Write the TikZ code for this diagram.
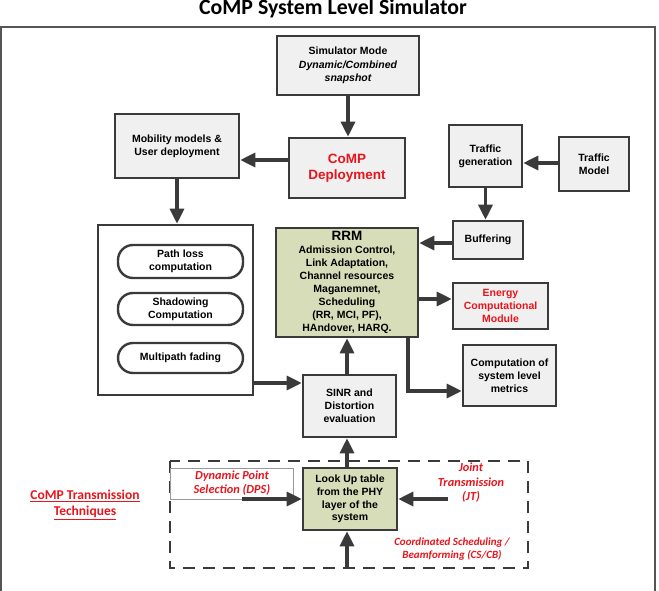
\documentclass[tikz,border=0pt]{standalone}
\usepackage{fontspec}
\setmainfont{Liberation Sans}
\newfontfamily\calfont{Carlito}
\usetikzlibrary{arrows.meta}
\definecolor{bdr}{HTML}{3A3A3A}
\definecolor{boxfill}{HTML}{F0F0F0}
\definecolor{grn}{HTML}{D6DDB8}
\definecolor{rd}{HTML}{E8141C}
\definecolor{frm}{HTML}{555555}
\tikzset{
  gbox/.style={draw=bdr, fill=boxfill, line width=2.6pt, inner sep=0pt, align=center,
    font=\fontsize{10.5}{12.8}\selectfont\bfseries},
  greenbox/.style={gbox, fill=grn},
  pill/.style={draw=bdr, fill=white, line width=2.4pt, rounded corners=15pt, inner sep=0pt, align=center,
    font=\fontsize{10.5}{12.8}\selectfont\bfseries},
  arr/.style={draw=bdr, line width=3.2pt, -{Triangle[length=15pt,width=14pt]}},
  redit/.style={text=rd, align=center, font=\calfont\fontsize{12.3}{14.5}\selectfont\bfseries\itshape},
}
\begin{document}
\begin{tikzpicture}[x=1pt,y=-1pt]
\useasboundingbox (0,0) rectangle (659,591);
% title
\node[font=\calfont\fontsize{21.8}{24}\selectfont\bfseries] (title) at (333,9) {CoMP System Level Simulator};
% outer frame
\draw[frm, line width=2pt] (1,600) -- (1,27) -- (655,27) -- (655,600);
% boxes
\node[gbox, minimum width=142pt, minimum height=59pt, font=\fontsize{10.5}{13.5}\selectfont\bfseries] (sim) at (348,65.5)
  {Simulator Mode\\\itshape Dynamic/Combined\\\itshape snapshot};
\node[gbox, minimum width=124pt, minimum height=64pt] (mob) at (177,146) {Mobility models \&\\User deployment};
\node[gbox, minimum width=116pt, minimum height=60pt, text=rd, font=\fontsize{13.5}{16}\selectfont\bfseries] (dep) at (347,168) {CoMP\\Deployment};
\node[gbox, minimum width=73pt, minimum height=62pt] (tgen) at (485.5,156) {Traffic\\generation};
\node[gbox, minimum width=70pt, minimum height=54pt] (tmod) at (594,164) {Traffic\\Model};
\node[gbox, minimum width=70pt, minimum height=38pt] (buf) at (488,240) {Buffering};
\node[greenbox, minimum width=142pt, minimum height=109pt, font=\fontsize{10.5}{12.9}\selectfont\bfseries] (rrm) at (347,282.5)
  {{\fontsize{13.5}{13.5}\selectfont RRM}\\Admission Control,\\Link Adaptation,\\Channel resources\\Maganemnet,\\Scheduling\\(RR, MCI, PF),\\HAndover, HARQ.};
\node[gbox, minimum width=95pt, minimum height=46pt, text=rd] (energy) at (500.5,306) {Energy\\Computational\\Module};
\node[gbox, minimum width=93pt, minimum height=61pt] (comp) at (509.5,375.5) {Computation of\\system level\\metrics};
\node[gbox, fill=white, minimum width=155pt, minimum height=170pt] (big) at (175.5,310) {};
\node[pill, minimum width=125pt, minimum height=33pt] (pl) at (180.5,261.5) {Path loss\\computation};
\node[pill, minimum width=125pt, minimum height=32pt] (sh) at (180.5,309) {Shadowing\\Computation};
\node[pill, minimum width=125pt, minimum height=30pt] (mp) at (180.5,358) {Multipath fading};
\node[gbox, minimum width=93pt, minimum height=62pt] (sinr) at (349.5,406) {SINR and\\Distortion\\evaluation};
% dashed region
\draw[bdr, line width=2.4pt, dash pattern=on 12pt off 8pt] (170,461) rectangle (528,568);
\draw[gray!80, line width=1pt] (170,468) rectangle (293,499);
\node[greenbox, minimum width=94pt, minimum height=62pt] (lut) at (350,499) {Look Up table\\from the PHY\\layer of the\\system};
% labels
\node[redit] (dps) at (232,483) {Dynamic Point\\Selection (DPS)};
\node[redit] (jt) at (471,483) {Joint\\Transmission\\(JT)};
\node[redit, font=\calfont\fontsize{11}{12.8}\selectfont\bfseries\itshape] (cs) at (452,549) {Coordinated Scheduling /\\Beamforming (CS/CB)};
\node[text=rd, align=center, font=\calfont\fontsize{13.5}{16}\selectfont\bfseries] (tech) at (85,505)
  {\underline{CoMP Transmission}\\\underline{Techniques}};
% helper coordinates
\coordinate (y160) at (0,160);
\coordinate (y163) at (0,163);
\coordinate (y243) at (0,243);
\coordinate (y299) at (0,299);
\coordinate (y383) at (0,383);
\coordinate (x347) at (347,0);
\coordinate (x408) at (408,0);
\coordinate (turn) at (408,391);
\coordinate (jtstart) at (448,499);
\coordinate (dpsstart) at (242,499);
\coordinate (bottomstart) at (347,568);
% arrows
\draw[arr] (sim.south) -- (sim.south |- dep.north);
\draw[arr] (dep.west |- y160) -- (mob.east |- y160);
\draw[arr] (mob.south) -- (mob.south |- big.north);
\draw[arr] (tmod.west |- y163) -- (tgen.east |- y163);
\draw[arr] (tgen.south) -- (tgen.south |- buf.north);
\draw[arr] (buf.west |- y243) -- (rrm.east |- y243);
\draw[arr] (rrm.east |- y299) -- (energy.west |- y299);
\draw[arr] (rrm.south -| x408) -- (turn) -- (comp.west |- turn);
\draw[arr] (big.east |- y383) -- (sinr.west |- y383);
\draw[arr] (sinr.north -| x347) -- (rrm.south -| x347);
\draw[arr] (lut.north -| x347) -- (sinr.south -| x347);
\draw[arr] (bottomstart) -- (lut.south -| bottomstart);
\draw[arr] (jtstart) -- (lut.east |- jtstart);
\draw[arr] (dpsstart) -- (lut.west |- dpsstart);
\end{tikzpicture}
\end{document}
